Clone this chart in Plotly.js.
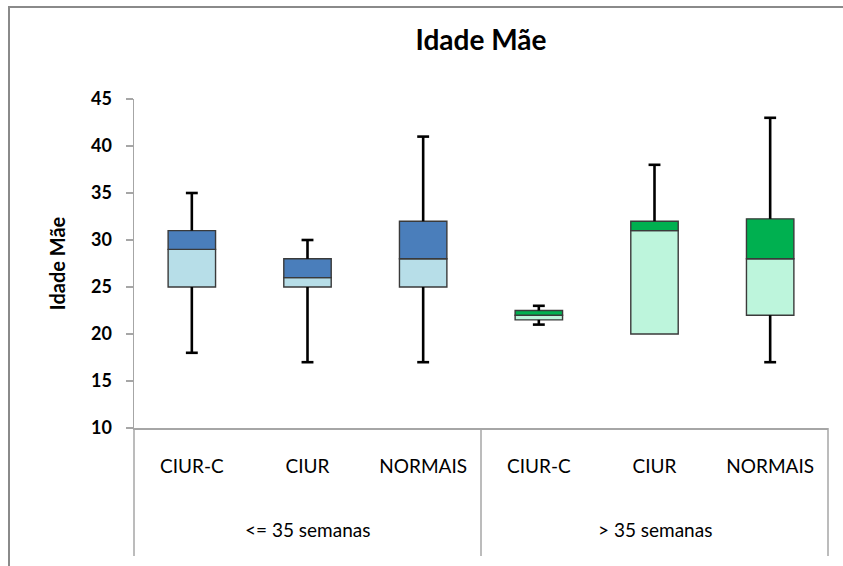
<!DOCTYPE html>
<html>
<head>
<meta charset="utf-8">
<script src="https://cdn.plot.ly/plotly-3.0.1.min.js"></script>
<style>
  html, body { margin: 0; padding: 0; background: #fff; overflow: hidden; }
  #chart { width: 843px; height: 566px; }
  #frame { position: absolute; left: 8px; top: 6px; width: 900px; height: 700px;
           border-left: 2px solid #8a8a8a; border-top: 2px solid #8a8a8a; pointer-events: none; }
</style>
</head>
<body>
<div id="chart"></div>
<div id="frame"></div>
<script>
// Maternal age by group and gestational age band (five-number summaries)
const groups = ['<= 35 semanas', '> 35 semanas'];
const categories = ['CIUR-C', 'CIUR', 'NORMAIS', 'CIUR-C', 'CIUR', 'NORMAIS'];
const groupOf = [0, 0, 0, 1, 1, 1];
const minimo = [18, 17, 17, 21, 20, 17];
const q1 = [25, 25, 25, 21.5, 20, 22];
const mediana = [29, 26, 28, 22, 31, 28];
const q3 = [31, 28, 32, 22.5, 32, 32.25];
const maximo = [35, 30, 41, 23, 38, 43];

// colour pair per gestational band: [lower half, upper half]
const bandColors = [['#b7dee8', '#4a7ebb'], ['#bdf5dc', '#00b050']];

const pos = categories.map((_, i) => i);
const FONT = 'Lato, "Open Sans", sans-serif';
const edge = { color: '#3a3a3a', width: 1.4 };

// lower half of each box: Q1 -> median
const lowerBox = {
  type: 'bar', x: pos, base: q1, y: q1.map((v, i) => mediana[i] - v),
  width: 0.41, marker: { color: groupOf.map(g => bandColors[g][0]), line: edge },
  hoverinfo: 'skip', showlegend: false
};
// upper half of each box: median -> Q3
const upperBox = {
  type: 'bar', x: pos, base: mediana, y: mediana.map((v, i) => q3[i] - v),
  width: 0.41, marker: { color: groupOf.map(g => bandColors[g][1]), line: edge },
  hoverinfo: 'skip', showlegend: false
};

// whisker stems and caps
const stemX = [], stemY = [], capX = [], capY = [];
pos.forEach(i => {
  if (maximo[i] > q3[i]) {
    stemX.push(i, i, null); stemY.push(q3[i], maximo[i], null);
    capX.push(i); capY.push(maximo[i]);
  }
  if (minimo[i] < q1[i]) {
    stemX.push(i, i, null); stemY.push(minimo[i], q1[i], null);
    capX.push(i); capY.push(minimo[i]);
  }
});
const stems = {
  type: 'scatter', mode: 'lines', x: stemX, y: stemY,
  line: { color: '#000', width: 2.6 }, hoverinfo: 'skip', showlegend: false
};
const caps = {
  type: 'scatter', mode: 'markers', x: capX, y: capY,
  marker: { symbol: 'line-ew', size: 8.5, line: { color: '#000', width: 2.6 } },
  hoverinfo: 'skip', showlegend: false
};

const axisGray = '#a6a6a6';
const layout = {
  width: 843, height: 566,
  margin: { l: 134, r: 15, t: 99, b: 138 },
  paper_bgcolor: '#fff', plot_bgcolor: '#fff',
  barmode: 'overlay',
  title: {
    text: 'Idade Mãe', x: 0.5, xref: 'paper', xanchor: 'center',
    y: 1 - 40 / 566, yref: 'container', yanchor: 'middle',
    font: { family: FONT, size: 28, color: '#000', weight: 'bold' }
  },
  xaxis: {
    range: [-0.5, 5.5], tickvals: pos, ticktext: categories,
    showline: true, linecolor: axisGray, linewidth: 1.5,
    ticks: '', showgrid: false, zeroline: false, ticklabelstandoff: 21,
    tickfont: { family: FONT, size: 19, color: '#000' }
  },
  yaxis: {
    range: [10, 45], dtick: 5, tick0: 10,
    showline: true, linecolor: axisGray, linewidth: 1.5,
    ticks: 'outside', ticklen: 7, tickwidth: 1.5, tickcolor: axisGray,
    showgrid: false, zeroline: false, ticklabelstandoff: 10,
    tickfont: { family: FONT, size: 18, color: '#000', weight: 'bold' },
    title: { text: 'Idade Mãe', standoff: 20,
             font: { family: FONT, size: 20, color: '#000', weight: 'bold' } }
  },
  // group separators below the axis
  shapes: [0, 0.5, 1].map(xv => ({
    type: 'line', xref: 'x domain', yref: 'paper',
    x0: xv, x1: xv, y0: 0, y1: -128 / 329,
    line: { color: axisGray, width: 1.5 }
  })),
  annotations: groups.map((g, k) => ({
    text: g, xref: 'x', yref: 'paper',
    x: (pos[groupOf.indexOf(k)] + pos[groupOf.lastIndexOf(k)]) / 2,
    y: -101 / 329, yanchor: 'middle', showarrow: false,
    font: { family: FONT, size: 19, color: '#000' }
  }))
};

Plotly.newPlot('chart', [lowerBox, upperBox, stems, caps], layout, { staticPlot: true, displayModeBar: false });
</script>
</body>
</html>
